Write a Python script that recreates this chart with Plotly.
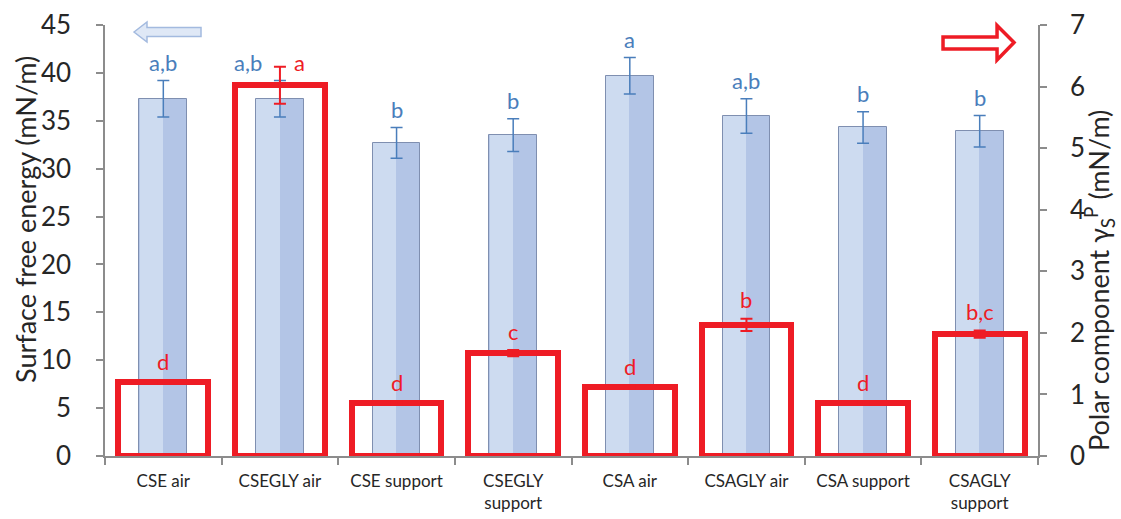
import plotly.graph_objects as go

categories = ["CSE air", "CSEGLY air", "CSE support", "CSEGLY<br>support",
              "CSA air", "CSAGLY air", "CSA support", "CSAGLY<br>support"]
sfe_values = [37.3, 37.3, 32.7, 33.5, 39.7, 35.5, 34.3, 33.9]
sfe_errors = [1.9, 1.9, 1.6, 1.7, 1.9, 1.8, 1.65, 1.65]
sfe_letters = ["a,b", "a,b", "b", "b", "a", "a,b", "b", "b"]
polar_values = [1.20, 6.02, 0.86, 1.67, 1.12, 2.13, 0.86, 1.98]
polar_errors = [0.02, 0.30, 0.02, 0.05, 0.02, 0.10, 0.02, 0.06]
polar_letters = ["d", "a", "d", "c", "d", "b", "d", "b,c"]
left_ticks = [0, 5, 10, 15, 20, 25, 30, 35, 40, 45]
right_ticks = [0, 1, 2, 3, 4, 5, 6, 7]
left_title = "Surface free energy (mN/m)"
right_title = "Polar component γ<sub>S</sub><sup>P</sup> (mN/m)"

W, H = 1121, 519
ML, MR, MT, MB = 105, 83, 25, 63
PW, PH = W - ML - MR, H - MT - MB
FONT = "Lato"
BLUE_TXT = "#4a7ebb"
RED = "#ee1c25"


def px(x, y):
    return (x - ML) / PW, (H - MB - y) / PH


fig = go.Figure()

# blue bars (surface free energy): base + lighter left strip
fig.add_trace(go.Bar(x=categories, y=sfe_values, width=0.41,
                     marker=dict(color="#b3c5e6", line=dict(color="#7f8fb0", width=1)),
                     yaxis="y", showlegend=False))
fig.add_trace(go.Bar(x=categories, y=sfe_values, width=0.2, offset=-0.203,
                     marker=dict(color="#cddbf0", line=dict(width=0)),
                     yaxis="y", showlegend=False))
fig.add_trace(go.Scatter(x=categories, y=sfe_values, mode="markers",
                         marker=dict(size=1, color="rgba(0,0,0,0)"),
                         error_y=dict(type="data", array=sfe_errors, color=BLUE_TXT,
                                      thickness=1.5, width=6),
                         yaxis="y", showlegend=False))

# red outline bars (polar component)
fig.add_trace(go.Bar(x=categories, y=polar_values, width=0.77,
                     marker=dict(color="rgba(0,0,0,0)", line=dict(color=RED, width=6)),
                     cliponaxis=False, yaxis="y2", showlegend=False))
fig.add_trace(go.Scatter(x=categories, y=polar_values, mode="markers",
                         marker=dict(size=1, color="rgba(0,0,0,0)"),
                         error_y=dict(type="data", array=polar_errors, color=RED,
                                      thickness=2, width=6),
                         cliponaxis=False, yaxis="y2", showlegend=False))

annotations = []
for i, c in enumerate(categories):
    xs_b, xs_r, ys_r = 0, 0, 19
    if i == 1:
        xs_b, xs_r, ys_r = -32, 20, 4
    annotations.append(dict(x=c, y=sfe_values[i] + sfe_errors[i], xref="x", yref="y",
                            text=sfe_letters[i], showarrow=False, yanchor="middle",
                            yshift=18, xshift=xs_b,
                            font=dict(family=FONT, size=22, color=BLUE_TXT)))
    annotations.append(dict(x=c, y=polar_values[i] + polar_errors[i], xref="x", yref="y2",
                            text=polar_letters[i], showarrow=False, yanchor="middle",
                            yshift=ys_r, xshift=xs_r,
                            font=dict(family=FONT, size=22, color=RED)))

lx, ly = px(25, 220)
annotations.append(dict(x=lx, y=ly, xref="paper", yref="paper", text=left_title,
                        textangle=-90, showarrow=False, xanchor="center", yanchor="middle",
                        font=dict(family=FONT, size=27, color="#262626")))
rx, ry = px(1099, 281)
annotations.append(dict(x=rx, y=ry, xref="paper", yref="paper", text=right_title,
                        textangle=-90, showarrow=False, xanchor="center", yanchor="middle",
                        font=dict(family=FONT, size=27, color="#262626")))


def path(points):
    pts = [px(*p) for p in points]
    return "M " + " L ".join(f"{a:.4f},{b:.4f}" for a, b in pts) + " Z"


shapes = [
    dict(type="path", xref="paper", yref="paper",
         path=path([(134, 32), (147, 22), (147, 27.5), (201, 27.5), (201, 36.5),
                    (147, 36.5), (147, 42)]),
         fillcolor="#dfe8f6", line=dict(color="#a3badf", width=1.5)),
    dict(type="path", xref="paper", yref="paper",
         path=path([(1014, 42.5), (997, 25.5), (997, 37), (943, 37), (943, 49),
                    (997, 49), (997, 60)]),
         fillcolor="white", line=dict(color=RED, width=3.5)),
]

axis_common = dict(showgrid=False, zeroline=False, showline=True, linecolor="#8c8c8c",
                   linewidth=1.5, ticks="outside", ticklen=7, tickcolor="#8c8c8c",
                   tickwidth=1.5, automargin=False)

fig.update_layout(
    width=W, height=H,
    margin=dict(l=ML, r=MR, t=MT, b=MB, pad=0, autoexpand=False),
    paper_bgcolor="white", plot_bgcolor="white",
    barmode="overlay", bargap=0,
    font=dict(family=FONT, color="#262626"),
    xaxis=dict(**axis_common, tickson="boundaries", tickfont=dict(size=17),
               type="category", ticklabelstandoff=9),
    yaxis=dict(**axis_common, range=[0, 45], tickvals=left_ticks,
               tickfont=dict(size=26), ticklabelstandoff=20),
    yaxis2=dict(**axis_common, range=[0, 7], tickvals=right_ticks, overlaying="y",
                side="right", tickfont=dict(size=26), ticklabelstandoff=18),
    annotations=annotations,
    shapes=shapes,
)

fig.write_html("out.html", config={"displayModeBar": False},
               post_script="document.body.style.margin='0';"
                           "document.body.style.overflow='hidden';")
